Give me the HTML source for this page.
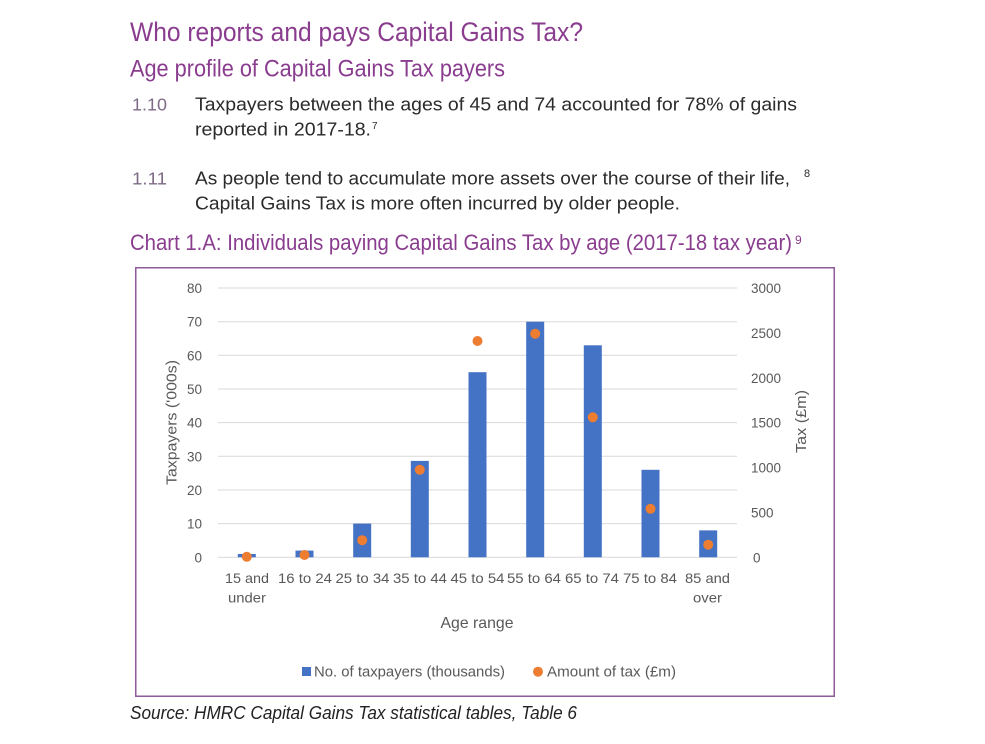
<!DOCTYPE html>
<html>
<head>
<meta charset="utf-8">
<style>
  html,body{margin:0;padding:0;background:#fff;}
  svg{display:block;}
  text{font-family:"Liberation Sans", sans-serif;}
</style>
</head>
<body>
<svg width="985" height="744" viewBox="0 0 985 744" xmlns="http://www.w3.org/2000/svg">
  <rect x="0" y="0" width="985" height="744" fill="#ffffff"/>

  <!-- Headings -->
  <text x="130" y="41" font-size="26.5" fill="#8a3d8f" textLength="453" lengthAdjust="spacingAndGlyphs">Who reports and pays Capital Gains Tax?</text>
  <text x="130" y="76.5" font-size="24" fill="#8a3d8f" textLength="375" lengthAdjust="spacingAndGlyphs">Age profile of Capital Gains Tax payers</text>

  <!-- Paragraph 1.10 -->
  <text x="132" y="110.5" font-size="17.5" fill="#7d6a85" textLength="35" lengthAdjust="spacingAndGlyphs">1.10</text>
  <text x="195" y="110.5" font-size="18" fill="#2b2b2b" textLength="602" lengthAdjust="spacingAndGlyphs">Taxpayers between the ages of 45 and 74 accounted for 78% of gains</text>
  <text x="195" y="135.5" font-size="18" fill="#2b2b2b" textLength="176" lengthAdjust="spacingAndGlyphs">reported in 2017-18.</text>
  <text x="372" y="129" font-size="10" fill="#2b2b2b">7</text>

  <!-- Paragraph 1.11 -->
  <text x="132" y="184.3" font-size="17.5" fill="#7d6a85" textLength="35" lengthAdjust="spacingAndGlyphs">1.11</text>
  <text x="195" y="184.3" font-size="18" fill="#2b2b2b" textLength="595" lengthAdjust="spacingAndGlyphs">As people tend to accumulate more assets over the course of their life,</text>
  <text x="804" y="177" font-size="11" fill="#2b2b2b">8</text>
  <text x="195" y="209.3" font-size="18" fill="#2b2b2b" textLength="485" lengthAdjust="spacingAndGlyphs">Capital Gains Tax is more often incurred by older people.</text>

  <!-- Chart title -->
  <text x="130" y="250" font-size="22" fill="#8a3d8f" textLength="662" lengthAdjust="spacingAndGlyphs">Chart 1.A: Individuals paying Capital Gains Tax by age (2017-18 tax year)</text>
  <text x="795" y="244" font-size="12" fill="#8a3d8f">9</text>

  <!-- Chart box -->
  <rect x="135.75" y="267.75" width="698.5" height="428.5" fill="none" stroke="#8e5a9a" stroke-width="1.5"/>

  <!-- Gridlines -->
  <g stroke="#d9d9d9" stroke-width="1">
    <line x1="218" y1="288.0" x2="737" y2="288.0"/>
    <line x1="218" y1="321.7" x2="737" y2="321.7"/>
    <line x1="218" y1="355.3" x2="737" y2="355.3"/>
    <line x1="218" y1="389.0" x2="737" y2="389.0"/>
    <line x1="218" y1="422.6" x2="737" y2="422.6"/>
    <line x1="218" y1="456.3" x2="737" y2="456.3"/>
    <line x1="218" y1="490.0" x2="737" y2="490.0"/>
    <line x1="218" y1="523.6" x2="737" y2="523.6"/>
    <line x1="218" y1="557.3" x2="737" y2="557.3"/>
  </g>

  <!-- Left tick labels -->
  <g font-size="13.5" fill="#595959" text-anchor="end">
    <text x="202" y="293">80</text>
    <text x="202" y="326.7">70</text>
    <text x="202" y="360.3">60</text>
    <text x="202" y="394">50</text>
    <text x="202" y="427.6">40</text>
    <text x="202" y="461.3">30</text>
    <text x="202" y="495">20</text>
    <text x="202" y="528.6">10</text>
    <text x="202" y="562.3">0</text>
  </g>

  <!-- Right tick labels -->
  <g font-size="13.5" fill="#595959" text-anchor="start">
    <text x="751" y="293">3000</text>
    <text x="751" y="337.9">2500</text>
    <text x="751" y="382.8">2000</text>
    <text x="751" y="427.6">1500</text>
    <text x="751" y="472.5">1000</text>
    <text x="751" y="517.4">500</text>
    <text x="753" y="562.3">0</text>
  </g>

  <!-- Axis titles -->
  <text transform="translate(176.5,422.5) rotate(-90)" text-anchor="middle" font-size="14.5" fill="#595959" textLength="125" lengthAdjust="spacingAndGlyphs">Taxpayers ('000s)</text>
  <text transform="translate(806,421.5) rotate(-90)" text-anchor="middle" font-size="14.5" fill="#595959" textLength="63" lengthAdjust="spacingAndGlyphs">Tax (£m)</text>

  <!-- Bars -->
  <g fill="#4472c4">
    <rect x="237.8" y="554.0" width="18" height="3.3"/>
    <rect x="295.5" y="550.6" width="18" height="6.7"/>
    <rect x="353.2" y="523.6" width="18" height="33.7"/>
    <rect x="410.8" y="460.9" width="18" height="96.4"/>
    <rect x="468.5" y="372.2" width="18" height="185.1"/>
    <rect x="526.2" y="321.7" width="18" height="235.6"/>
    <rect x="583.8" y="345.3" width="18" height="212.0"/>
    <rect x="641.5" y="469.8" width="18" height="87.5"/>
    <rect x="699.2" y="530.4" width="18" height="26.9"/>
  </g>

  <!-- Dots -->
  <g fill="#ed7d31">
    <circle cx="246.8" cy="556.8" r="5"/>
    <circle cx="304.5" cy="555.0" r="5"/>
    <circle cx="362.2" cy="540.2" r="5"/>
    <circle cx="419.8" cy="469.8" r="5"/>
    <circle cx="477.5" cy="341.0" r="5"/>
    <circle cx="535.2" cy="333.8" r="5"/>
    <circle cx="592.8" cy="417.3" r="5"/>
    <circle cx="650.5" cy="508.8" r="5"/>
    <circle cx="708.2" cy="544.7" r="5"/>
  </g>

  <!-- X labels -->
  <g font-size="14" fill="#595959" text-anchor="middle">
    <text x="247" y="583" textLength="44" lengthAdjust="spacingAndGlyphs">15 and</text>
    <text x="247" y="602.5" textLength="38" lengthAdjust="spacingAndGlyphs">under</text>
    <text x="305" y="583" textLength="54" lengthAdjust="spacingAndGlyphs">16 to 24</text>
    <text x="362.5" y="583" textLength="54" lengthAdjust="spacingAndGlyphs">25 to 34</text>
    <text x="420" y="583" textLength="54" lengthAdjust="spacingAndGlyphs">35 to 44</text>
    <text x="477.5" y="583" textLength="54" lengthAdjust="spacingAndGlyphs">45 to 54</text>
    <text x="534" y="583" textLength="54" lengthAdjust="spacingAndGlyphs">55 to 64</text>
    <text x="592" y="583" textLength="54" lengthAdjust="spacingAndGlyphs">65 to 74</text>
    <text x="650" y="583" textLength="54" lengthAdjust="spacingAndGlyphs">75 to 84</text>
    <text x="707.5" y="583" textLength="45" lengthAdjust="spacingAndGlyphs">85 and</text>
    <text x="707.5" y="602.5" textLength="29" lengthAdjust="spacingAndGlyphs">over</text>
  </g>

  <text x="477" y="628" font-size="16" fill="#595959" text-anchor="middle" textLength="73" lengthAdjust="spacingAndGlyphs">Age range</text>

  <!-- Legend -->
  <rect x="302" y="667" width="9" height="9" fill="#4472c4"/>
  <text x="314" y="676.5" font-size="15" fill="#595959" textLength="191" lengthAdjust="spacingAndGlyphs">No. of taxpayers (thousands)</text>
  <circle cx="538" cy="671.7" r="5" fill="#ed7d31"/>
  <text x="547" y="676.5" font-size="15" fill="#595959" textLength="129" lengthAdjust="spacingAndGlyphs">Amount of tax (£m)</text>

  <!-- Source -->
  <text x="130" y="719" font-size="18" font-style="italic" fill="#222222" textLength="447" lengthAdjust="spacingAndGlyphs">Source: HMRC Capital Gains Tax statistical tables, Table 6</text>
</svg>
</body>
</html>
